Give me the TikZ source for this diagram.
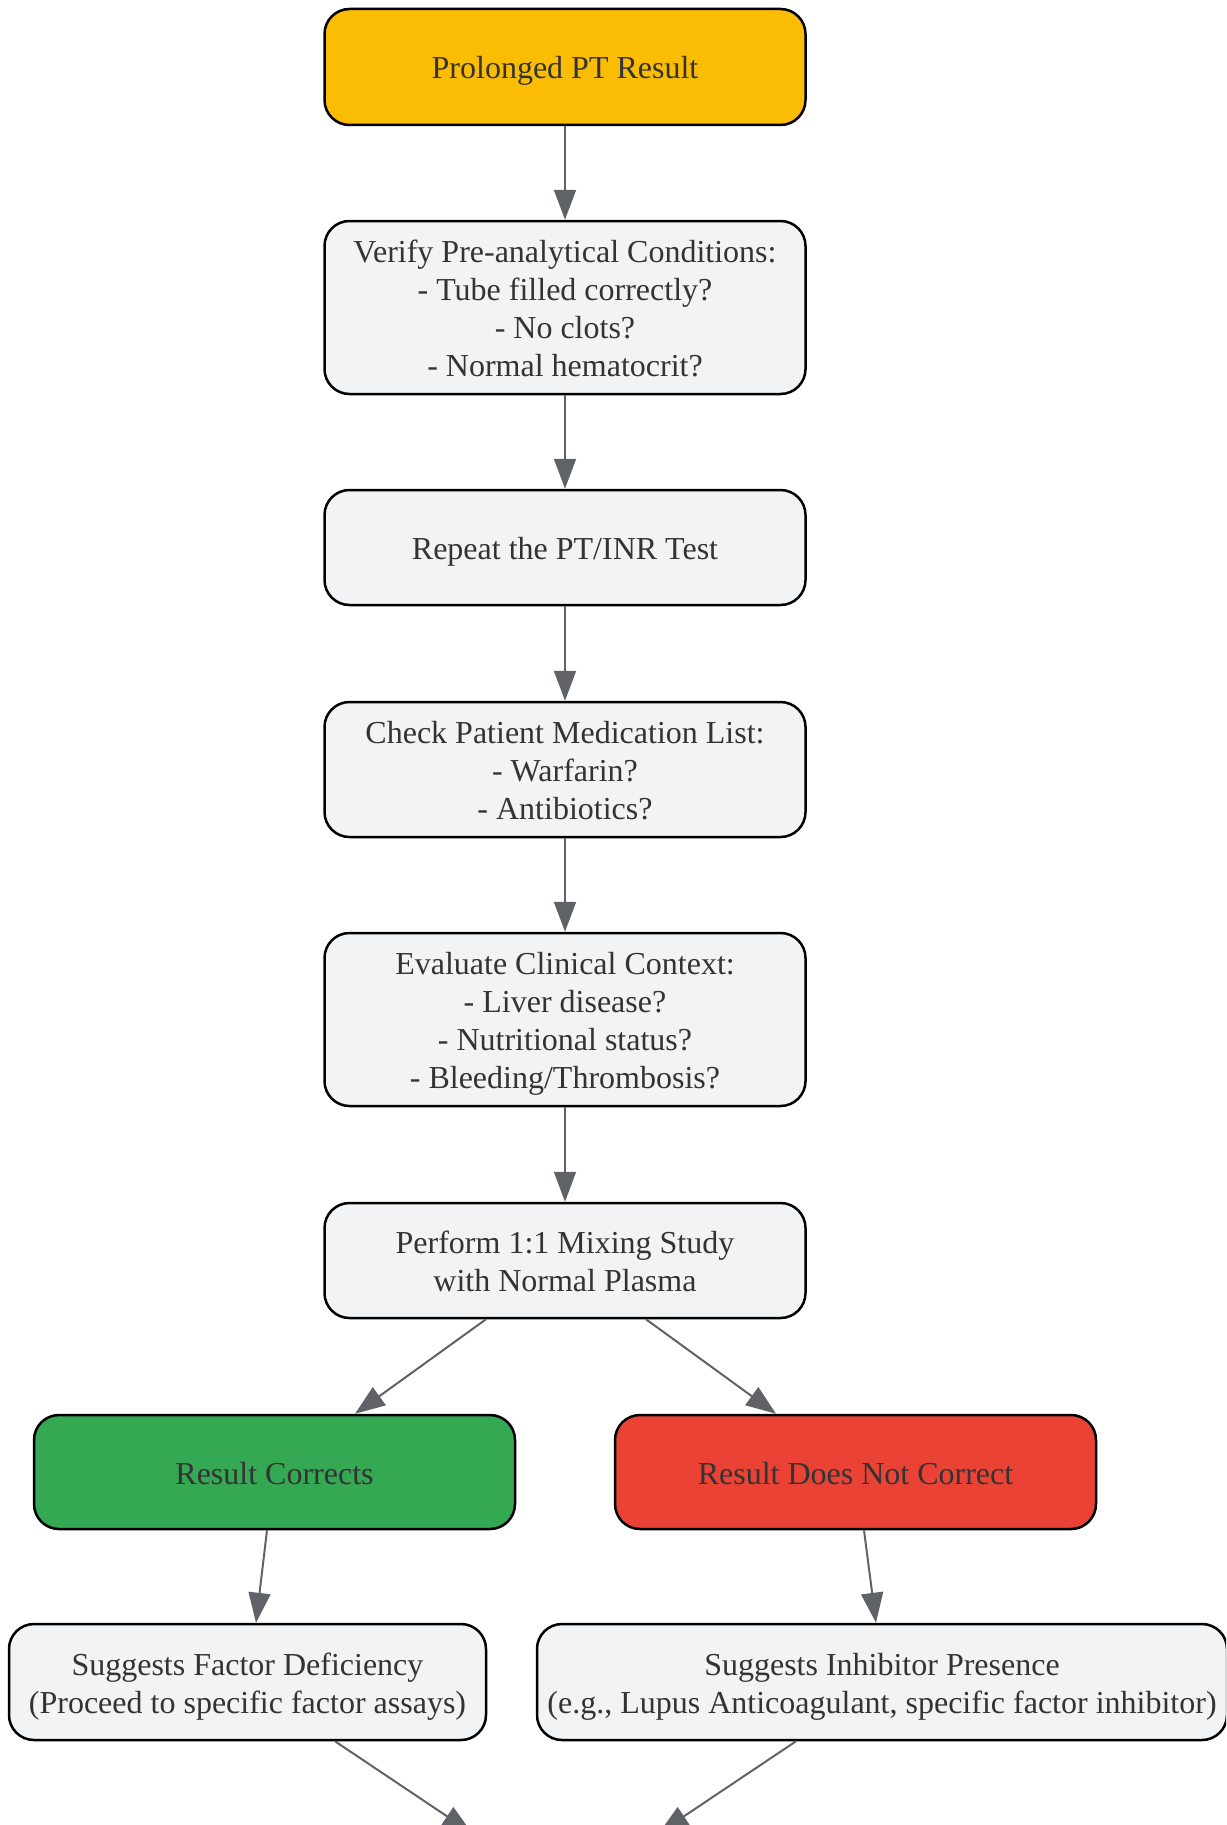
\documentclass[tikz,border=0pt]{standalone}
\usepackage{fontspec}
\setmainfont{Liberation Serif}
\usetikzlibrary{arrows.meta,calc}
\definecolor{yel}{HTML}{FBBC04}
\definecolor{grn}{HTML}{34A853}
\definecolor{rd}{HTML}{EA4335}
\definecolor{gry}{HTML}{F1F3F4}
\definecolor{edgec}{HTML}{5F6368}
\definecolor{txt}{HTML}{333333}
\newcommand{\ls}{\rule[-7pt]{0pt}{38pt}}
\tikzset{
  box/.style={draw=black, line width=2.5pt, rounded corners=25pt, fill=gry,
    inner sep=0pt, align=center, text=txt,
    font=\fontsize{32}{38}\selectfont},
  arr/.style={draw=edgec, line width=2pt, -{Triangle[length=30pt,width=22pt]}}
}
\begin{document}
\begin{tikzpicture}[x=1pt,y=-1pt]
\useasboundingbox (0,0) rectangle (1226,1825);
\clip (0,0) rectangle (1226,1825);
\node[box, fill=yel, minimum width=481pt, minimum height=116pt] (n1) at (565,67) {\ls Prolonged PT Result};
\node[box, minimum width=481pt, minimum height=173pt] (n2) at (565,307.5) {\ls Verify Pre-analytical Conditions:\\\ls - Tube filled correctly?\\\ls - No clots?\\\ls - Normal hematocrit?};
\node[box, minimum width=481pt, minimum height=115pt] (n3) at (565,547.5) {\ls Repeat the PT/INR Test};
\node[box, minimum width=481pt, minimum height=135pt] (n4) at (565,769.5) {\ls Check Patient Medication List:\\\ls - Warfarin?\\\ls - Antibiotics?};
\node[box, minimum width=481pt, minimum height=173pt] (n5) at (565,1019.5) {\ls Evaluate Clinical Context:\\\ls - Liver disease?\\\ls - Nutritional status?\\\ls - Bleeding/Thrombosis?};
\node[box, minimum width=481pt, minimum height=115pt] (n6) at (565,1260.5) {\ls Perform 1:1 Mixing Study\\\ls with Normal Plasma};
\node[box, fill=grn, minimum width=481pt, minimum height=114pt] (n7) at (274.5,1472) {\ls Result Corrects};
\node[box, fill=rd, minimum width=481pt, minimum height=114pt] (n8) at (855.5,1472) {\ls Result Does Not Correct};
\node[box, minimum width=477pt, minimum height=116pt] (n9) at (247.5,1682) {\ls Suggests Factor Deficiency\\\ls (Proceed to specific factor assays)};
\node[box, minimum width=690pt, minimum height=116pt] (n10) at (882,1682) {\ls Suggests Inhibitor Presence\\\ls (e.g., Lupus Anticoagulant, specific factor inhibitor)};
\coordinate (o1) at (472,1833);
\coordinate (o2) at (659,1833);
\draw[arr] (n1.south) -- (n2.north);
\draw[arr] (n2.south) -- (n3.north);
\draw[arr] (n3.south) -- (n4.north);
\draw[arr] (n4.south) -- (n5.north);
\draw[arr] (n5.south) -- (n6.north);
\draw[arr] ($(n6.south)+(-79,0)$) -- ($(n7.north)+(80.5,0)$);
\draw[arr] ($(n6.south)+(81,0)$) -- ($(n8.north)+(-79.5,0)$);
\draw[arr] ($(n7.south)+(-7.5,0)$) -- ($(n9.north)+(8.5,0)$);
\draw[arr] ($(n8.south)+(8.5,0)$) -- ($(n10.north)+(-6,0)$);
\draw[arr] ($(n9.south)+(87.5,0)$) -- (o1);
\draw[arr] ($(n10.south)+(-86,0)$) -- (o2);
\end{tikzpicture}
\end{document}
